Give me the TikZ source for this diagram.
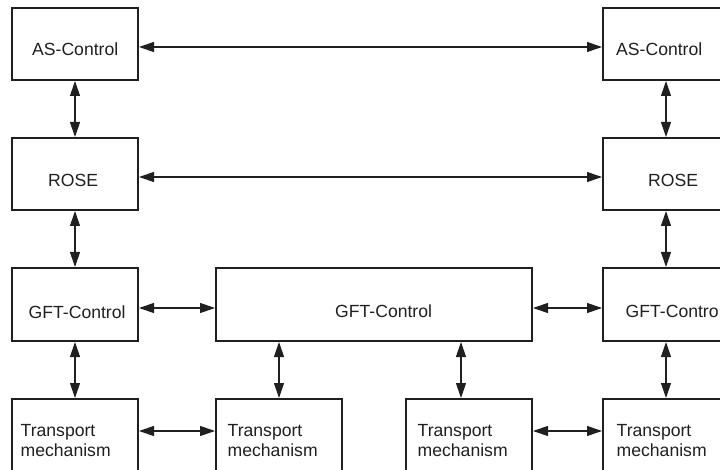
\documentclass[tikz,border=0pt]{standalone}
\usepackage{fontspec}
\setmainfont{Liberation Sans}
\usetikzlibrary{arrows.meta}
\definecolor{ink}{HTML}{202020}
\begin{document}
\begin{tikzpicture}[x=1pt,y=-1pt,
  blk/.style={draw=ink, line width=1.3pt, fill=white, anchor=north west,
    inner sep=0pt, outer sep=0pt, minimum width=126pt, minimum height=72pt},
  wideblk/.style={blk, minimum width=316pt, minimum height=73pt},
  lbl/.style={anchor=base west, inner sep=0pt, text=ink,
    font=\fontsize{17.6}{21}\selectfont},
  bi/.style={{Triangle[length=15pt,width=10pt]}-{Triangle[length=15pt,width=10pt]},
    draw=ink, line width=1.1pt, shorten >=1pt, shorten <=1pt}]
\useasboundingbox (0,0) rectangle (720,470);
\clip (0,0) rectangle (720,470);

% boxes: four columns, four rows
\node[blk] (asA)   at (12,8)   {};
\node[blk] (asD)   at (603,8)  {};
\node[blk] (roseA) at (12,138) {};
\node[blk] (roseD) at (603,138){};
\node[blk, minimum height=73pt] (gftA) at (12,268) {};
\node[wideblk] (gftM) at (216,268) {};
\node[blk, minimum height=73pt] (gftD) at (603,268) {};
\node[blk] (trA) at (12,399)  {};
\node[blk] (trB) at (216,399) {};
\node[blk] (trC) at (406,399) {};
\node[blk] (trD) at (603,399) {};

% labels
\node[lbl] (tasA)   at (32,56)    {AS-Control};
\node[lbl] (tasD)   at (616,56)   {AS-Control};
\node[lbl] (troseA) at (48,187)   {ROSE};
\node[lbl] (troseD) at (648,187)  {ROSE};
\node[lbl] (tgftA)  at (28.5,318) {GFT-Control};
\node[lbl] (tgftM)  at (335,317)  {GFT-Control};
\node[lbl] (tgftD)  at (625.5,317){GFT-Contro};
\node[lbl] (ttrA1)  at (20.5,436.7)  {Transport};
\node[lbl] (ttrA2)  at (20.5,456.3)  {mechanism};
\node[lbl] (ttrB1)  at (227.5,436.7) {Transport};
\node[lbl] (ttrB2)  at (227.5,456.3) {mechanism};
\node[lbl] (ttrC1)  at (417.5,436.7) {Transport};
\node[lbl] (ttrC2)  at (417.5,456.3) {mechanism};
\node[lbl] (ttrD1)  at (616.5,436.7) {Transport};
\node[lbl] (ttrD2)  at (616.5,456.3) {mechanism};

% horizontal links
\draw[bi] (asA.east |- 0,47)   -- (asD.west |- 0,47);
\draw[bi] (roseA.east |- 0,177) -- (roseD.west |- 0,177);
\draw[bi] (gftA.east |- 0,308) -- (gftM.west |- 0,308);
\draw[bi] (gftM.east |- 0,308) -- (gftD.west |- 0,308);
\draw[bi] (trA.east |- 0,431)  -- (trB.west |- 0,431);
\draw[bi] (trC.east |- 0,431)  -- (trD.west |- 0,431);

% vertical links
\draw[bi] (asA.south)   -- (roseA.north);
\draw[bi] (roseA.south) -- (gftA.north);
\draw[bi] (gftA.south)  -- (trA.north);
\draw[bi] (asD.south)   -- (roseD.north);
\draw[bi] (roseD.south) -- (gftD.north);
\draw[bi] (gftD.south)  -- (trD.north);
\draw[bi] (gftM.south -| trB.north) -- (trB.north);
\draw[bi] (gftM.south -| 461,0) -- (trC.north -| 461,0);
\end{tikzpicture}
\end{document}
